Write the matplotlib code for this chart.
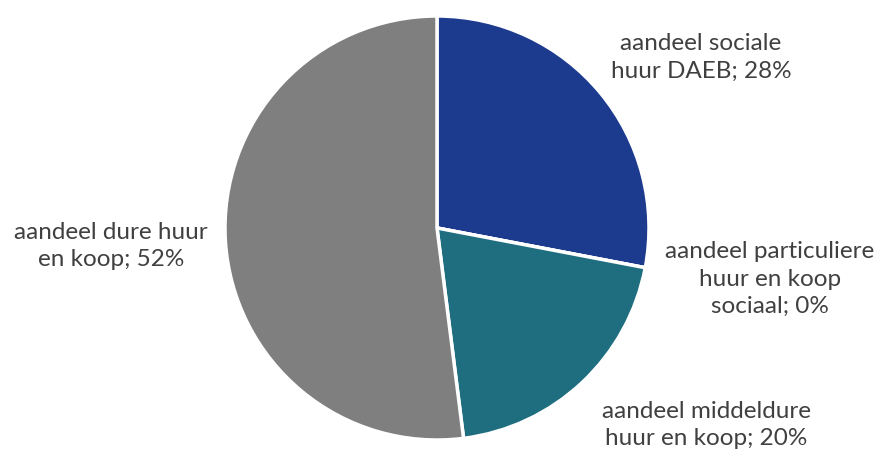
import matplotlib.pyplot as plt

labels = ['aandeel sociale\nhuur DAEB', 'aandeel particuliere\nhuur en koop\nsociaal',
          'aandeel middeldure\nhuur en koop', 'aandeel dure huur\nen koop']
values = [28, 0, 20, 52]
colors = ['#1C3A8E', '#C55A11', '#1E6E80', '#7F7F7F']
# label anchor positions in pixels (x, y from top)
label_pos = [(701, 57), (770, 279), (706, 425), (111, 246)]

W, H = 885, 454
fig = plt.figure(figsize=(W / 100, H / 100), dpi=100)
ax = fig.add_axes([0, 0, 1, 1])

ax.pie(values, colors=colors, startangle=90, counterclock=False,
       center=(437, H - 228), radius=212,
       wedgeprops=dict(edgecolor='white', linewidth=2.5))

for lab, v, (x, y) in zip(labels, values, label_pos):
    ax.text(x, H - y, f'{lab}; {v}%', ha='center', va='center',
            fontsize=17.5, color='#404040', family='Lato', linespacing=1.4)

ax.set_xlim(0, W)
ax.set_ylim(0, H)
ax.set_aspect('equal')
ax.axis('off')
fig.savefig('out.png', dpi=100)
